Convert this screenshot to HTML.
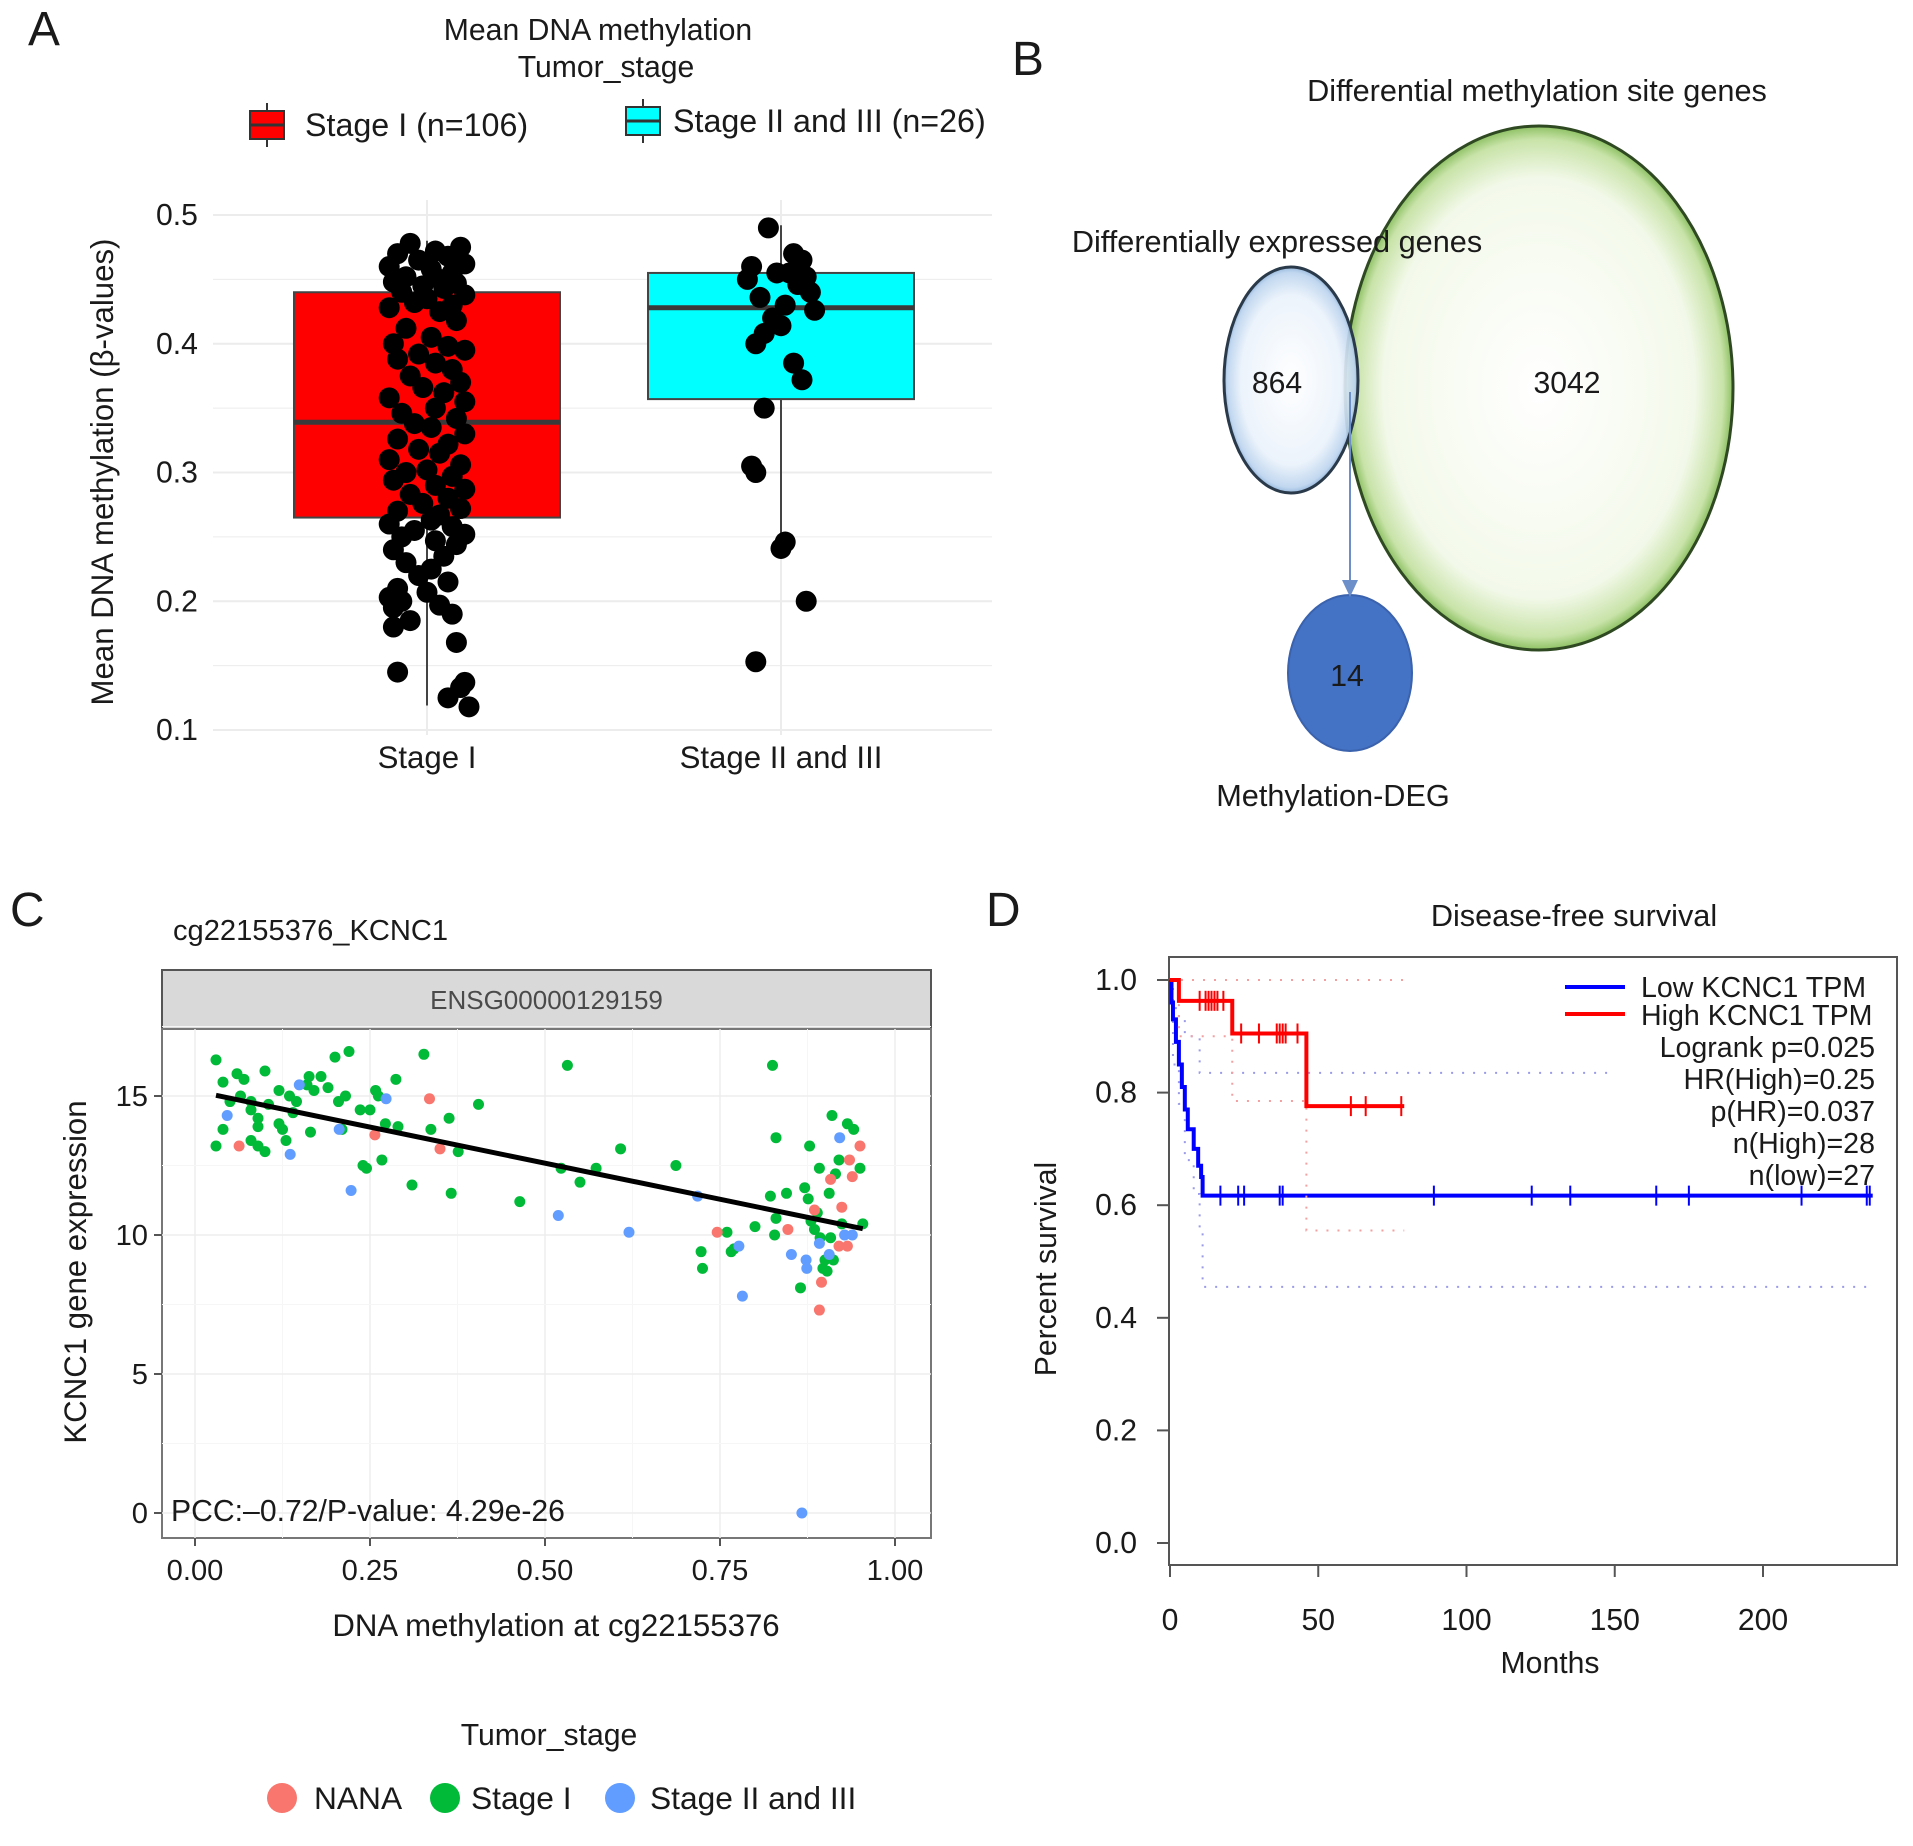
<!DOCTYPE html>
<html><head><meta charset="utf-8">
<style>
html,body{margin:0;padding:0;background:#fff;}
svg{display:block;font-family:"Liberation Sans",Arial,sans-serif;}
</style></head>
<body>
<svg id="fig" width="1913" height="1846" viewBox="0 0 1913 1846" xmlns="http://www.w3.org/2000/svg">
<defs>
<radialGradient id="gGreen" cx="50%" cy="50%" r="50%">
<stop offset="0%" stop-color="#ffffff"/><stop offset="80%" stop-color="#f3f9ea"/><stop offset="95%" stop-color="#c8e3a8"/><stop offset="100%" stop-color="#8dc163"/>
</radialGradient>
<radialGradient id="gBlue" cx="50%" cy="50%" r="50%">
<stop offset="0%" stop-color="#ffffff"/><stop offset="75%" stop-color="#eaf2fb"/><stop offset="95%" stop-color="#bcd4ee"/><stop offset="100%" stop-color="#8eb2da"/>
</radialGradient>
</defs>
</svg>
<script>
// ---------- Panel A data ----------
const boxCategories = ["Stage I", "Stage II and III"];
const boxQ1 = [0.265, 0.357];
const boxMedian = [0.339, 0.428];
const boxQ3 = [0.440, 0.455];
const boxWhiskerLow = [0.119, 0.242];
const boxWhiskerHigh = [0.480, 0.492];
const aTicks = [0.1, 0.2, 0.3, 0.4, 0.5];
const stage1Values = [0.478,0.475,0.472,0.470,0.468,0.465,0.462,0.460,0.458,0.455,0.452,0.450,0.448,0.447,0.445,0.443,0.440,0.438,0.435,0.432,0.430,0.428,0.425,0.418,0.412,0.405,0.400,0.398,0.395,0.392,0.388,0.385,0.380,0.375,0.370,0.366,0.362,0.358,0.355,0.350,0.346,0.342,0.338,0.335,0.330,0.326,0.322,0.318,0.315,0.310,0.306,0.302,0.300,0.297,0.294,0.290,0.287,0.283,0.280,0.276,0.272,0.270,0.267,0.263,0.260,0.258,0.255,0.252,0.250,0.247,0.244,0.240,0.235,0.230,0.225,0.220,0.215,0.210,0.207,0.203,0.200,0.197,0.195,0.190,0.185,0.180,0.168,0.145,0.137,0.133,0.125,0.118];
const stage1Jitter = [-0.4,0.8,0.2,-0.7,0.5,-0.2,0.9,-0.9,0.1,0.6,-0.5,0.3,-0.8,0.7,-0.1,0.4,-0.6,0.9,0.0,-0.3,0.6,-0.9,0.3,0.7,-0.5,0.1,-0.8,0.5,0.9,-0.2,-0.7,0.2,0.6,-0.4,0.8,-0.1,0.4,-0.9,0.9,0.2,-0.6,0.7,-0.3,0.1,0.9,-0.7,0.5,-0.2,0.3,-0.9,0.8,0.0,-0.5,0.6,-0.8,0.2,0.9,-0.4,0.5,-0.1,0.8,-0.7,0.3,0.1,-0.9,0.6,-0.3,0.9,-0.6,0.2,0.7,-0.8,0.4,-0.5,0.1,-0.2,0.5,-0.7,0.0,-0.9,-0.6,0.3,-0.8,0.6,-0.4,-0.8,0.7,-0.7,0.9,0.8,0.5,1.0];
const stage23Values = [0.490,0.470,0.465,0.460,0.455,0.455,0.452,0.450,0.446,0.440,0.436,0.430,0.426,0.420,0.414,0.408,0.400,0.385,0.372,0.350,0.305,0.300,0.246,0.241,0.200,0.153];
const stage23Jitter = [-0.3,0.3,0.5,-0.7,0.2,-0.1,0.6,-0.8,0.4,0.7,-0.5,0.1,0.8,-0.2,0.0,-0.4,-0.6,0.3,0.5,-0.4,-0.7,-0.6,0.1,0.0,0.6,-0.6];

// ---------- Panel C data ----------
const cTicksX = [0, 0.25, 0.5, 0.75, 1.0];
const cTickLabelsX = ["0.00","0.25","0.50","0.75","1.00"];
const cTicksY = [0, 5, 10, 15];
const greenX = [0.03,0.03,0.04,0.04,0.05,0.06,0.065,0.07,0.08,0.08,0.08,0.09,0.09,0.09,0.10,0.10,0.105,0.12,0.12,0.125,0.13,0.135,0.14,0.145,0.16,0.163,0.165,0.17,0.18,0.19,0.20,0.205,0.215,0.21,0.22,0.236,0.24,0.245,0.25,0.258,0.262,0.267,0.272,0.287,0.29,0.31,0.327,0.337,0.363,0.366,0.376,0.405,0.464,0.523,0.532,0.55,0.573,0.608,0.687,0.723,0.725,0.76,0.766,0.77,0.80,0.822,0.825,0.828,0.83,0.83,0.845,0.865,0.871,0.876,0.878,0.88,0.885,0.889,0.892,0.893,0.897,0.90,0.903,0.906,0.908,0.91,0.912,0.915,0.92,0.924,0.932,0.941,0.95,0.954];
const greenY = [13.2,16.3,15.5,13.8,14.8,15.8,15.0,15.6,14.5,13.4,14.8,14.2,13.2,13.9,15.9,13.0,14.7,15.2,14.0,13.8,13.4,15.0,14.4,14.8,15.4,15.7,13.7,15.2,15.7,15.3,16.4,14.8,15.0,13.8,16.6,14.5,12.5,12.4,14.5,15.2,15.0,12.7,14.0,15.6,13.9,11.8,16.5,13.8,14.2,11.5,13.0,14.7,11.2,12.4,16.1,11.9,12.4,13.1,12.5,9.4,8.8,10.1,9.4,9.5,10.3,11.4,16.1,10.0,13.5,10.6,11.5,8.1,11.7,11.3,13.2,10.5,10.2,10.8,12.4,9.9,8.8,9.1,8.7,11.5,9.9,14.3,9.1,12.2,12.7,10.4,14.0,13.8,12.4,10.4];
const redX = [0.063,0.257,0.335,0.35,0.746,0.847,0.885,0.892,0.895,0.908,0.92,0.924,0.932,0.935,0.939,0.95];
const redY = [13.2,13.6,14.9,13.1,10.1,10.2,10.9,7.3,8.3,12.0,9.6,11.0,9.6,12.7,12.1,13.2];
const blueX = [0.046,0.136,0.149,0.206,0.223,0.273,0.519,0.62,0.718,0.777,0.782,0.852,0.873,0.874,0.867,0.892,0.906,0.921,0.928,0.939];
const blueY = [14.3,12.9,15.4,13.8,11.6,14.9,10.7,10.1,11.4,9.6,7.8,9.3,9.1,8.8,0.0,9.7,9.3,13.5,10.0,10.0];

// ---------- Panel D data ----------
const dTicksX = [0, 50, 100, 150, 200];
const dTicksY = [0.0, 0.2, 0.4, 0.6, 0.8, 1.0];
const lowTimes = [0, 0.5, 1, 2, 3, 4, 5, 6, 8, 9.5, 10.5, 11, 237];
const lowSurv  = [1.0, 0.96, 0.93, 0.89, 0.85, 0.81, 0.77, 0.735, 0.70, 0.67, 0.65, 0.617, 0.617];
const lowCensor = [17, 23, 25, 37, 38, 89, 122, 135, 164, 175, 213, 235, 236];
const highTimes = [0, 3, 21, 46, 79];
const highSurv  = [1.0, 0.963, 0.905, 0.776, 0.776];
const highCensor = [10, 12, 13, 14, 15, 16, 18, 24, 30, 36, 37, 38, 39, 43, 61, 66, 78];
const lowUpperT = [0, 1, 3, 5, 10, 150];
const lowUpperS = [1.0, 0.95, 0.93, 0.90, 0.835, 0.835];
const lowLowerT = [0, 1, 3, 5, 8, 10, 11, 237];
const lowLowerS = [1.0, 0.85, 0.78, 0.68, 0.62, 0.55, 0.455, 0.455];
const highUpperT = [0, 79];
const highUpperS = [1.0, 1.0];
const highLowerT = [0, 3, 21, 46, 79];
const highLowerS = [1.0, 0.9, 0.785, 0.555, 0.555];

const NS = "http://www.w3.org/2000/svg";
const svg = document.getElementById("fig");
function mk(tag, attrs, parent) {
  const e = document.createElementNS(NS, tag);
  for (const k in attrs) e.setAttribute(k, attrs[k]);
  (parent || svg).appendChild(e);
  return e;
}
function txt(s, x, y, size, anchor, parent, extra) {
  const t = mk("text", Object.assign({x: x, y: y, "font-size": size * 1.04, "text-anchor": anchor || "start", fill: "#1a1a1a"}, extra || {}), parent);
  t.textContent = s;
  return t;
}
function grp(name) {
  const g = mk("g", {});
  
  
  return g;
}

// ================= Panel A =================
const gA = grp("panel-a-boxplot");
let t;
t = txt("A", 28, 45, 46, "start", gA);  
t = txt("Mean DNA methylation", 598, 40, 29, "middle", gA);  
t = txt("Tumor_stage", 606, 77, 29, "middle", gA);  
const legA = [[250, "#ff0000", "Stage I (n=106)", 305, 125], [626, "#00ffff", "Stage II and III (n=26)", 673, 121]];
legA.forEach((L, i) => {
  const g = mk("g", {}, gA);
  
  
  mk("line", {x1: L[0] + 17, x2: L[0] + 17, y1: L[4] - 22, y2: L[4] + 22, stroke: "#333", "stroke-width": 2}, g);
  mk("rect", {x: L[0], y: L[4] - 14, width: 34, height: 28, fill: L[1], stroke: "#333", "stroke-width": 2}, g);
  mk("line", {x1: L[0], x2: L[0] + 34, y1: L[4], y2: L[4], stroke: "#333", "stroke-width": 3}, g);
  txt(L[2], L[3], L[4] + 11, 31, "start", g);
});
const aY = v => 215 + (0.5 - v) * 1287.5;
const aCx = [427, 781];
const aHalf = 133;
for (let k = 0; k <= 8; k++) {
  const v = 0.1 + k * 0.05;
  const l = mk("line", {x1: 213, x2: 992, y1: aY(v), y2: aY(v), stroke: "#ececec", "stroke-width": k % 2 === 0 ? 2 : 1}, gA);
   
}
aCx.forEach(cx => { mk("line", {x1: cx, x2: cx, y1: 200, y2: 735, stroke: "#ececec", "stroke-width": 2}, gA); });
aTicks.forEach(v => {
  const tl = txt(v.toFixed(1), 177, aY(v) + 10, 29, "middle", gA);
   
});
boxCategories.forEach((c, i) => {
  const tl = txt(c, aCx[i], 768, 30, "middle", gA);
   
});
t = txt("Mean DNA methylation (\u03b2-values)", 0, 0, 30, "middle", gA, {transform: "translate(113,472) rotate(-90)"});
 
const boxFill = ["#ff0000", "#00ffff"];
boxCategories.forEach((c, i) => {
  const g = mk("g", {}, gA);
  
  
  mk("line", {x1: aCx[i], x2: aCx[i], y1: aY(boxWhiskerHigh[i]), y2: aY(boxWhiskerLow[i]), stroke: "#444", "stroke-width": 2}, g);
  mk("rect", {x: aCx[i] - aHalf, y: aY(boxQ3[i]), width: 2 * aHalf, height: aY(boxQ1[i]) - aY(boxQ3[i]), fill: boxFill[i], stroke: "#444", "stroke-width": 2}, g);
  mk("line", {x1: aCx[i] - aHalf, x2: aCx[i] + aHalf, y1: aY(boxMedian[i]), y2: aY(boxMedian[i]), stroke: "#3a3a3a", "stroke-width": 5}, g);
});
const gPts = mk("g", {}, gA);
 
stage1Values.forEach((v, i) => {
  const c = mk("circle", {cx: aCx[0] + stage1Jitter[i] * 42, cy: aY(v), r: 10.5, fill: "#000"}, gPts);
   
});
stage23Values.forEach((v, i) => {
  const c = mk("circle", {cx: aCx[1] + stage23Jitter[i] * 42, cy: aY(v), r: 10.5, fill: "#000"}, gPts);
   
});

// ================= Panel B =================
const gB = grp("panel-b-venn");
t = txt("B", 1012, 75, 46, "start", gB);  
let e;
e = mk("ellipse", {cx: 1539, cy: 388, rx: 194, ry: 262, fill: "url(#gGreen)", stroke: "#2f4a22", "stroke-width": 3}, gB);
 
e = mk("ellipse", {cx: 1291, cy: 380, rx: 67, ry: 113, fill: "url(#gBlue)", "fill-opacity": 0.92, stroke: "#2a3a4a", "stroke-width": 3}, gB);
 
e = mk("ellipse", {cx: 1350, cy: 673, rx: 62, ry: 78, fill: "#4472c4", stroke: "#3a62ad", "stroke-width": 2}, gB);
 
e = mk("line", {x1: 1350, x2: 1350, y1: 392, y2: 585, stroke: "#6d8fc9", "stroke-width": 2}, gB);
 
e = mk("polygon", {points: "1342,580 1358,580 1350,597", fill: "#6d8fc9"}, gB);
 
t = txt("Differential methylation site genes", 1537, 101, 29.5, "middle", gB);  
t = txt("Differentially expressed genes", 1277, 252, 29.5, "middle", gB);  
t = txt("864", 1277, 393, 29, "middle", gB);  
t = txt("3042", 1567, 393, 29, "middle", gB);  
t = txt("14", 1347, 686, 29, "middle", gB);  
t = txt("Methylation-DEG", 1333, 806, 29.5, "middle", gB);  

// ================= Panel C =================
const gC = grp("panel-c-scatter");
t = txt("C", 10, 926, 46, "start", gC);  
t = txt("cg22155376_KCNC1", 173, 940, 28, "start", gC);  
const cX = v => 195 + v * 700;
const cY = v => 1513 - v * 27.8;
const PX0 = 162, PX1 = 931, PY0 = 1029, PY1 = 1538;
e = mk("rect", {x: PX0, y: 970, width: PX1 - PX0, height: PY0 - 970, fill: "#d9d9d9", stroke: "#555", "stroke-width": 2}, gC);
 
t = txt("ENSG00000129159", (PX0 + PX1) / 2, 1009, 25, "middle", gC, {fill: "#4a4a4a"});  
e = mk("rect", {x: PX0, y: PY0, width: PX1 - PX0, height: PY1 - PY0, fill: "#fff", stroke: "#777", "stroke-width": 2}, gC);
 
cTicksX.forEach(v => { mk("line", {x1: cX(v), x2: cX(v), y1: PY0, y2: PY1, stroke: "#ededed", "stroke-width": 1.5}, gC); });
cTicksX.slice(0, -1).forEach(v => { mk("line", {x1: cX(v + 0.125), x2: cX(v + 0.125), y1: PY0, y2: PY1, stroke: "#f6f6f6", "stroke-width": 1}, gC); });
cTicksY.forEach(v => { mk("line", {x1: PX0, x2: PX1, y1: cY(v), y2: cY(v), stroke: "#ededed", "stroke-width": 1.5}, gC); });
cTicksY.forEach(v => { mk("line", {x1: PX0, x2: PX1, y1: cY(v + 2.5), y2: cY(v + 2.5), stroke: "#f6f6f6", "stroke-width": 1}, gC); });
cTicksX.forEach((v, i) => {
  mk("line", {x1: cX(v), x2: cX(v), y1: PY1, y2: PY1 + 8, stroke: "#555", "stroke-width": 2}, gC);
  const tl = txt(cTickLabelsX[i], cX(v), 1580, 28, "middle", gC);
   
});
cTicksY.forEach(v => {
  mk("line", {x1: PX0 - 8, x2: PX0, y1: cY(v), y2: cY(v), stroke: "#555", "stroke-width": 2}, gC);
  const tl = txt(String(v), PX0 - 14, cY(v) + 10, 28, "end", gC);
   
});
t = txt("DNA methylation at cg22155376", 556, 1636, 30, "middle", gC);  
t = txt("KCNC1 gene expression", 0, 0, 30, "middle", gC, {transform: "translate(86,1272) rotate(-90)"});  
const cPts = mk("g", {}, gC);
 
function plotSeries(xs, ys, col, nm) {
  xs.forEach((x, i) => {
    const c = mk("circle", {cx: cX(x), cy: cY(ys[i]), r: 5.5, fill: col}, cPts);
     
  });
}
plotSeries(greenX, greenY, "#00ba38", "point-stage-i");
plotSeries(redX, redY, "#f8766d", "point-nana");
plotSeries(blueX, blueY, "#619cff", "point-stage-ii-iii");
(function () {
  const xs = greenX.concat(redX, blueX), ys = greenY.concat(redY, blueY);
  const n = xs.length;
  const mx = xs.reduce((a, b) => a + b, 0) / n, my = ys.reduce((a, b) => a + b, 0) / n;
  let sxy = 0, sxx = 0;
  for (let i = 0; i < n; i++) { sxy += (xs[i] - mx) * (ys[i] - my); sxx += (xs[i] - mx) ** 2; }
  const b = sxy / sxx, a = my - b * mx;
  const x0 = Math.min(...xs), x1 = Math.max(...xs);
  const l = mk("line", {x1: cX(x0), y1: cY(a + b * x0), x2: cX(x1), y2: cY(a + b * x1), stroke: "#000", "stroke-width": 5}, gC);
   
})();
t = txt("PCC:\u20130.72/P-value: 4.29e-26", 171, 1521, 29, "start", gC);  
t = txt("Tumor_stage", 549, 1745, 29, "middle", gC);  
[[282, "#f8766d", "NANA", 314], [445, "#00ba38", "Stage I", 471], [620, "#619cff", "Stage II and III", 650]].forEach(L => {
  const g = mk("g", {}, gC);
  
  
  mk("circle", {cx: L[0], cy: 1798, r: 15, fill: L[1]}, g);
  txt(L[2], L[3], 1809, 30.5, "start", g);
});

// ================= Panel D =================
const gD = grp("panel-d-survival");
t = txt("D", 986, 926, 46, "start", gD);  
t = txt("Disease-free survival", 1574, 926, 29.5, "middle", gD);  
const dX = v => 1170 + v * 2.965;
const dY = v => 1543 - v * 563;
e = mk("rect", {x: 1169, y: 957, width: 728, height: 608, fill: "#fff", stroke: "#555", "stroke-width": 2}, gD);
 
dTicksX.forEach(v => {
  mk("line", {x1: dX(v), x2: dX(v), y1: 1565, y2: 1577, stroke: "#555", "stroke-width": 2}, gD);
  const tl = txt(String(v), dX(v), 1630, 29, "middle", gD);
   
});
dTicksY.forEach(v => {
  mk("line", {x1: 1157, x2: 1169, y1: dY(v), y2: dY(v), stroke: "#555", "stroke-width": 2}, gD);
  const tl = txt(v.toFixed(1), 1137, dY(v) + 10, 29, "end", gD);
   
});
t = txt("Months", 1550, 1673, 29, "middle", gD);  
t = txt("Percent survival", 0, 0, 29, "middle", gD, {transform: "translate(1056,1269) rotate(-90)"});  
function stepPath(ts, ss) {
  let d = "M" + dX(ts[0]) + "," + dY(ss[0]);
  for (let i = 1; i < ts.length; i++) d += " H" + dX(ts[i]) + " V" + dY(ss[i]);
  return d;
}
function survAt(ts, ss, x) { let s = ss[0]; for (let i = 0; i < ts.length; i++) if (ts[i] <= x) s = ss[i]; return s; }
function kmCurve(ts, ss, cens, col, nm, up, upS, lo, loS, ciCol) {
  const g = mk("g", {}, gD);
   
  mk("path", {d: stepPath(up, upS), fill: "none", stroke: ciCol, "stroke-width": 2, "stroke-dasharray": "2,9"}, g);
  mk("path", {d: stepPath(lo, loS), fill: "none", stroke: ciCol, "stroke-width": 2, "stroke-dasharray": "2,9"}, g);
  mk("path", {d: stepPath(ts, ss), fill: "none", stroke: col, "stroke-width": 4}, g);
  cens.forEach(c => {
    const y = dY(survAt(ts, ss, c));
    const m = mk("line", {x1: dX(c), x2: dX(c), y1: y - 10, y2: y + 10, stroke: col, "stroke-width": 2}, g);
     
  });
}
kmCurve(lowTimes, lowSurv, lowCensor, "#0000ff", "curve-low-kcnc1", lowUpperT, lowUpperS, lowLowerT, lowLowerS, "#9a9ae8");
kmCurve(highTimes, highSurv, highCensor, "#ff0000", "curve-high-kcnc1", highUpperT, highUpperS, highLowerT, highLowerS, "#f3a0a0");
const legD = mk("g", {}, gD);
 
mk("rect", {x: 1560, y: 970, width: 320, height: 56, fill: "#fff"}, legD);
mk("line", {x1: 1565, x2: 1625, y1: 987, y2: 987, stroke: "#0000ff", "stroke-width": 4}, legD);
mk("line", {x1: 1565, x2: 1625, y1: 1014, y2: 1014, stroke: "#ff0000", "stroke-width": 4}, legD);
txt("Low KCNC1 TPM", 1641, 997, 27.5, "start", legD);
txt("High KCNC1 TPM", 1641, 1025, 27.5, "start", legD);
["Logrank p=0.025", "HR(High)=0.25", "p(HR)=0.037", "n(High)=28", "n(low)=27"].forEach((s, i) => {
  const s1 = txt(s, 1875, 1057 + i * 32, 27.5, "end", legD);
   
});
</script>
</body></html>
